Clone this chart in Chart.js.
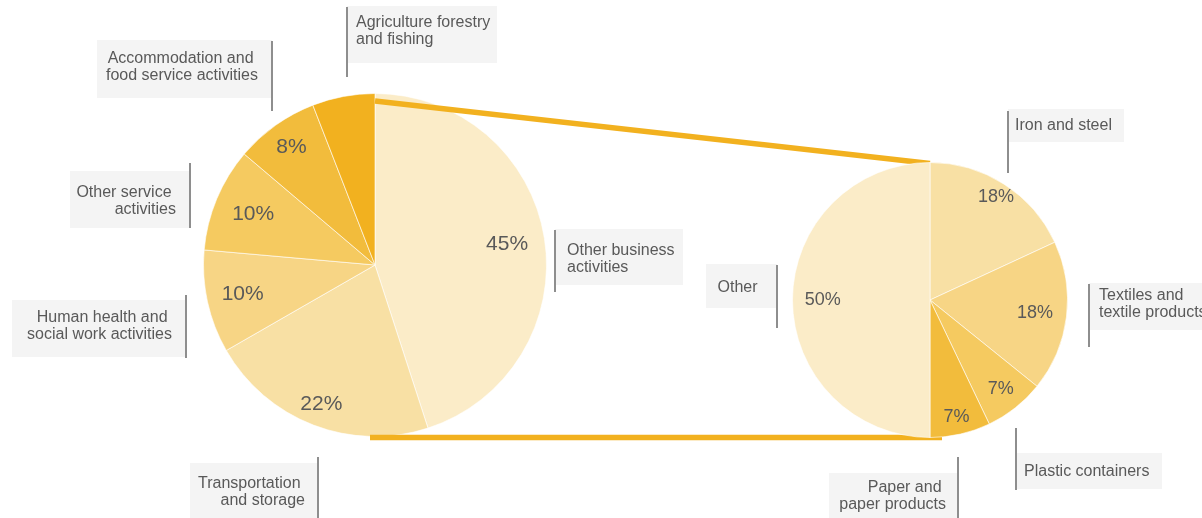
<!DOCTYPE html>
<html>
<head>
<meta charset="utf-8">
<script src="https://cdn.jsdelivr.net/npm/chart.js@4.4.1/dist/chart.umd.min.js"></script>
<style>
  html, body { margin: 0; padding: 0; background: #fff; }
  body { width: 1202px; height: 518px; position: relative; overflow: hidden;
         font-family: "Liberation Sans", Arial, sans-serif; }
  canvas, svg { position: absolute; }
  .box { position: absolute; background: #f4f4f4; }
  .lead { position: absolute; width: 2px; background: #8e8e8e; }
  .txt { position: absolute; font-size: 16px; line-height: 17px; color: #595959; white-space: pre; }
</style>
</head>
<body>
<canvas id="pieLeft" width="344" height="344" style="left:203px;top:93px"></canvas>
<svg id="links" width="1202" height="518" style="left:0;top:0"></svg>
<canvas id="pieRight" width="276" height="276" style="left:792px;top:162px"></canvas>
<div id="notes"></div>

<script>
// Secteurs du graphique de gauche (en %)
const sectorLabels = [
  ['Other business', 'activities'],
  ['Transportation ', 'and storage'],
  ['Human health and ', 'social work activities'],
  ['Other service ', 'activities'],
  ['Accommodation and ', 'food service activities'],
  ['Agriculture forestry', 'and fishing']
];
const sectorValues = [45, 21.7, 9.7, 9.8, 7.9, 5.9];
const sectorColors = ['#fbecc8', '#f8e0a4', '#f7d585', '#f5ca60', '#f2bc3c', '#f2b11f'];

// Détail de la part "Other business activities" (en %)
const detailLabels = [
  ['Iron and steel'],
  ['Textiles and', 'textile products'],
  ['Plastic containers'],
  ['Paper and ', 'paper products'],
  ['Other ']
];
const detailValues = [18.1, 17.7, 7.1, 7.1, 50];
const detailColors = ['#f8e0a4', '#f7d585', '#f5ca60', '#f2bc3c', '#fbecc8'];

// Étiquettes en pourcentage à l'intérieur des parts
const pctLabels = {
  id: 'pctLabels',
  afterDatasetsDraw(chart, args, opts) {
    const ctx = chart.ctx;
    const meta = chart.getDatasetMeta(0);
    const values = chart.data.datasets[0].data;
    ctx.save();
    ctx.font = opts.size + 'px "Liberation Sans", Arial, sans-serif';
    ctx.fillStyle = '#595959';
    ctx.textAlign = 'center';
    ctx.textBaseline = 'middle';
    meta.data.forEach((arc, i) => {
      if (values[i] < 6) return;
      const p = arc.getProps(['x', 'y', 'startAngle', 'endAngle', 'outerRadius']);
      const mid = (p.startAngle + p.endAngle) / 2;
      const r = p.outerRadius * opts.factors[i];
      ctx.fillText(Math.round(values[i]) + '%', p.x + Math.cos(mid) * r, p.y + Math.sin(mid) * r);
    });
    ctx.restore();
  }
};

function makePie(id, labels, values, colors, size, factors) {
  return new Chart(document.getElementById(id), {
    type: 'pie',
    data: {
      labels: labels,
      datasets: [{
        data: values,
        backgroundColor: colors,
        borderColor: 'rgba(255,255,255,0.6)',
        borderWidth: 1
      }]
    },
    options: {
      responsive: false,
      animation: false,
      layout: { padding: 0 },
      plugins: {
        legend: { display: false },
        tooltip: { enabled: false },
        pctLabels: { size: size, factors: factors }
      }
    },
    plugins: [pctLabels]
  });
}

const left = makePie('pieLeft', sectorLabels, sectorValues, sectorColors, 21, [0.78, 0.87, 0.79, 0.77, 0.84, 0.8]);
const right = makePie('pieRight', detailLabels, detailValues, detailColors, 18, [0.89, 0.77, 0.83, 0.87, 0.78]);

// Lignes de liaison entre les deux camemberts
function arcGeom(chart) {
  const a = chart.getDatasetMeta(0).data[0];
  const rect = chart.canvas.getBoundingClientRect();
  return { x: rect.left + a.x, y: rect.top + a.y, r: a.outerRadius };
}
const L = arcGeom(left), R = arcGeom(right);
const svg = document.getElementById('links');
function link(x1, y1, x2, y2) {
  const ln = document.createElementNS('http://www.w3.org/2000/svg', 'line');
  ln.setAttribute('x1', x1); ln.setAttribute('y1', y1);
  ln.setAttribute('x2', x2); ln.setAttribute('y2', y2);
  ln.setAttribute('stroke', '#f2b11f');
  ln.setAttribute('stroke-width', 5.5);
  svg.appendChild(ln);
}
link(L.x, L.y - L.r + 7.5, R.x, R.y - R.r + 1);
link(L.x - 5, L.y + L.r + 1, R.x + 12, R.y + R.r);

// Boîtes d'annotation
const notes = [
  { text: sectorLabels[5], box: [347, 6, 150, 57], lead: [346, 7, 77], x: 356, y: 13 },
  { text: sectorLabels[4], box: [97, 40, 175, 58], lead: [271, 41, 111], right: 258, y: 49 },
  { text: sectorLabels[3], box: [70, 171, 120, 57], lead: [189, 163, 228], right: 176, y: 183 },
  { text: sectorLabels[2], box: [12, 300, 174, 57], lead: [185, 295, 358], right: 172, y: 308 },
  { text: sectorLabels[1], box: [190, 463, 127, 55], lead: [317, 457, 518], right: 305, y: 474 },
  { text: sectorLabels[0], box: [555, 229, 128, 56], lead: [554, 230, 292], x: 567, y: 241 },
  { text: detailLabels[4], box: [706, 264, 71, 44], lead: [776, 265, 328], right: 762, y: 278 },
  { text: detailLabels[0], box: [1008, 109, 116, 33], lead: [1007, 111, 173], x: 1015, y: 116 },
  { text: detailLabels[1], box: [1089, 283, 120, 47], lead: [1088, 284, 347], x: 1099, y: 286 },
  { text: detailLabels[2], box: [1016, 453, 146, 36], lead: [1015, 428, 490], x: 1024, y: 462 },
  { text: detailLabels[3], box: [829, 473, 129, 50], lead: [957, 457, 518], right: 946, y: 478 }
];
const holder = document.getElementById('notes');
notes.forEach(n => {
  const b = document.createElement('div');
  b.className = 'box';
  b.style.cssText = `left:${n.box[0]}px;top:${n.box[1]}px;width:${n.box[2]}px;height:${n.box[3]}px`;
  holder.appendChild(b);
  const l = document.createElement('div');
  l.className = 'lead';
  l.style.cssText = `left:${n.lead[0]}px;top:${n.lead[1]}px;height:${n.lead[2] - n.lead[1]}px`;
  holder.appendChild(l);
  const t = document.createElement('div');
  t.className = 'txt';
  t.textContent = n.text.join('\n');
  if (n.right !== undefined) {
    t.style.cssText = `right:${1202 - n.right}px;top:${n.y}px;text-align:right`;
  } else {
    t.style.cssText = `left:${n.x}px;top:${n.y}px`;
  }
  holder.appendChild(t);
});
</script>
</body>
</html>
